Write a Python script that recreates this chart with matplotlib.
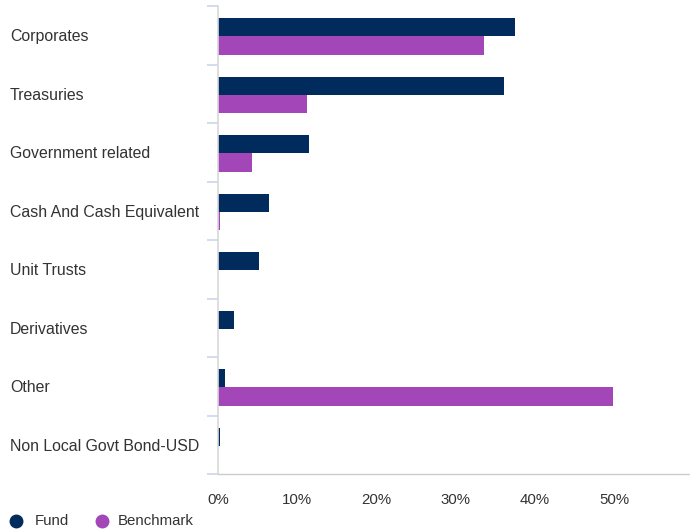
import matplotlib
matplotlib.use("Agg")
import matplotlib.pyplot as plt
import numpy as np
from matplotlib.lines import Line2D
from matplotlib.transforms import blended_transform_factory

plt.rcParams['font.family'] = ['Liberation Sans', 'DejaVu Sans']

categories = ["Corporates", "Treasuries", "Government related", "Cash And Cash Equivalent",
              "Unit Trusts", "Derivatives", "Other", "Non Local Govt Bond-USD"]
fund = [37.5, 36.1, 11.5, 6.4, 5.2, 2.0, 0.9, 0.25]
benchmark = [33.6, 11.3, 4.3, 0.25, 0.0, 0.0, 49.9, 0.0]
xticks = [0, 10, 20, 30, 40, 50]
xtick_labels = ["0%", "10%", "20%", "30%", "40%", "50%"]
series_names = ["Fund", "Benchmark"]

fund_color = "#002b5c"
bench_color = "#a346b8"
text_color = "#333333"

fig = plt.figure(figsize=(6.9, 5.32), dpi=100)
ax = fig.add_axes([218/690, 1 - 474/532, 1 - 218/690, (474 - 6)/532])

n = len(categories)
y = np.arange(n)
h = 0.31
ax.barh(y - h/2 + 0.02, fund, height=h, color=fund_color, label=series_names[0])
ax.barh(y + h/2 + 0.02, benchmark, height=h, color=bench_color, label=series_names[1])

ax.set_ylim(n - 0.5, -0.5)
ax.set_xlim(0, 59.6)

# category boundary ticks
ax.set_yticks(np.arange(-0.5, n, 1.0))
ax.set_yticklabels([])
ax.tick_params(axis='y', length=8, width=1.2, color="#ccd6eb", direction='out')
ax.set_yticks(y, minor=True)
ax.set_yticklabels(categories, minor=True)
ax.tick_params(axis='y', which='minor', length=0, pad=0)
for lbl in ax.get_yticklabels(minor=True):
    lbl.set_horizontalalignment('left')
    lbl.set_color(text_color)
    lbl.set_fontsize(11.4)
    lbl.set_transform(blended_transform_factory(fig.transFigure, ax.transData))
    lbl.set_x(10/690)

ax.set_xticks(xticks)
ax.set_xticklabels(xtick_labels, color=text_color, fontsize=10.8)
ax.tick_params(axis='x', length=0, pad=14)

for s in ["top", "right"]:
    ax.spines[s].set_visible(False)
ax.spines["left"].set_color("#d8d8d8")
ax.spines["left"].set_linewidth(1.2)
ax.spines["bottom"].set_color("#cccccc")
ax.spines["bottom"].set_linewidth(1.0)

# legend, Highcharts-style
leg_y = 1 - 521/532
for xm, xt, name, col in [(16, 35, series_names[0], fund_color), (102, 118, series_names[1], bench_color)]:
    fig.add_artist(Line2D([xm/690], [leg_y], marker='o', markersize=9, color=col,
                          linestyle='', transform=fig.transFigure))
    fig.text(xt/690, leg_y, name, color=text_color, fontsize=10.8, va='center', ha='left')

fig.savefig("out.png", dpi=100)
